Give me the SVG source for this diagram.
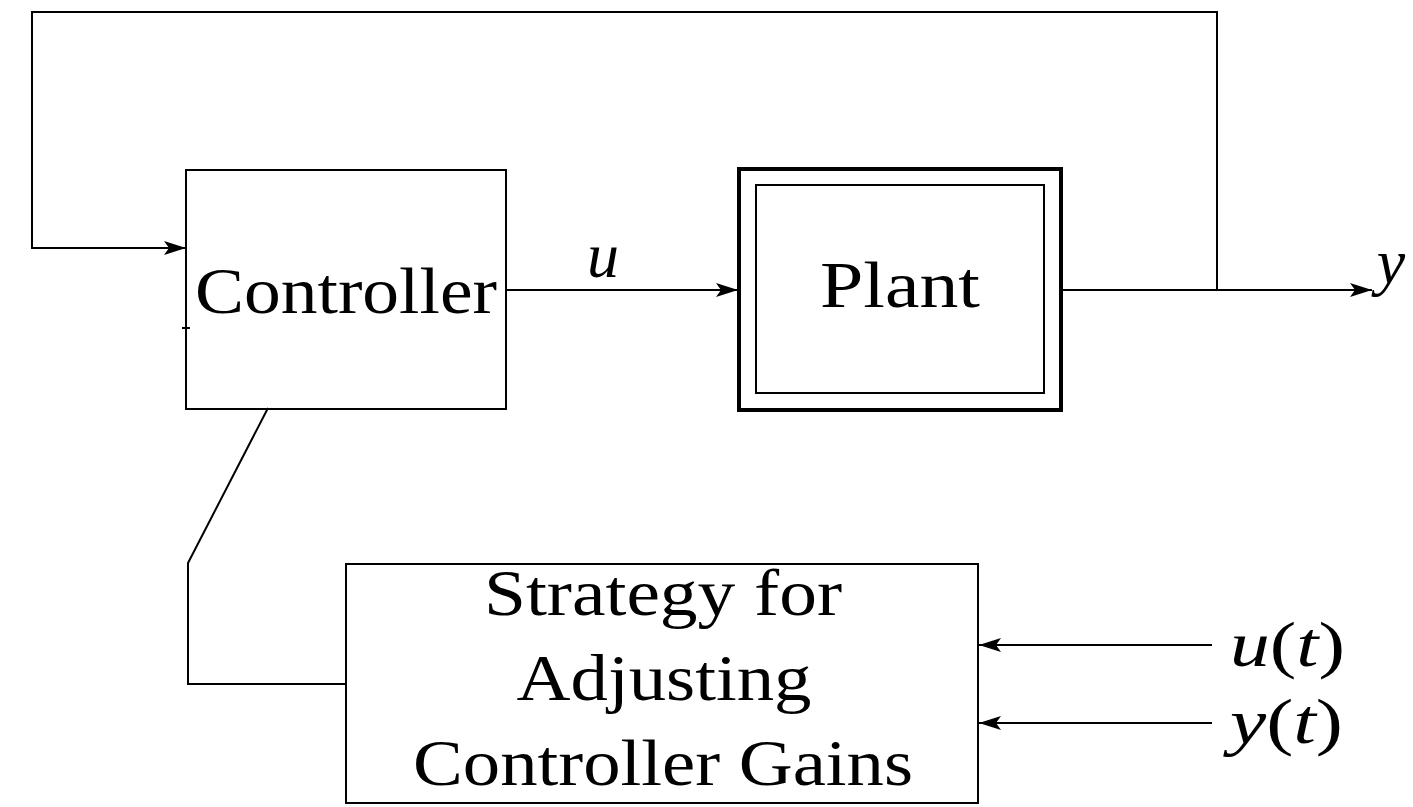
<svg xmlns="http://www.w3.org/2000/svg" width="1413" height="807" viewBox="0 0 1413 807">
<style>
.box{fill:none;stroke:#000;stroke-width:2}
.thick{fill:none;stroke:#000;stroke-width:4}
.ln{fill:none;stroke:#000;stroke-width:2}
.t{font-family:"Liberation Serif","DejaVu Serif",serif;font-size:66px;fill:#000}
.it{font-family:"Liberation Serif","DejaVu Serif",serif;font-size:64px;font-style:italic;fill:#000}
</style>
<defs>
<marker id="ah" viewBox="0 0 22 16" refX="22" refY="8" markerWidth="22" markerHeight="16" markerUnits="userSpaceOnUse" orient="auto">
<path d="M0,1 L22,8 L0,15 L5,8 Z" fill="#000"/>
</marker>
</defs>
<rect width="1413" height="807" fill="#fff"/>
<g id="controller">
<rect class="box" x="186" y="170" width="320" height="239"/>
<line class="ln" x1="182" y1="328" x2="190" y2="328"/>
<text class="t" x="346" y="313" text-anchor="middle" textLength="302" lengthAdjust="spacingAndGlyphs">Controller</text>
</g>
<g id="plant">
<rect class="thick" x="739" y="169" width="322" height="241"/>
<rect class="box" x="756" y="185" width="288" height="208"/>
<text class="t" x="900" y="307" text-anchor="middle" textLength="160" lengthAdjust="spacingAndGlyphs">Plant</text>
</g>
<g id="strategy">
<rect class="box" x="346" y="564" width="632" height="239"/>
<text class="t" x="663" y="615" text-anchor="middle" textLength="358" lengthAdjust="spacingAndGlyphs">Strategy for</text>
<text class="t" x="664" y="700" text-anchor="middle" textLength="295" lengthAdjust="spacingAndGlyphs">Adjusting</text>
<text class="t" x="663" y="785" text-anchor="middle" textLength="500" lengthAdjust="spacingAndGlyphs">Controller Gains</text>
</g>
<g id="connectors">
<line class="ln" x1="506" y1="290" x2="738" y2="290" marker-end="url(#ah)"/>
<line class="ln" x1="1061" y1="290" x2="1372" y2="290" marker-end="url(#ah)"/>
<polyline class="ln" points="1217,290 1217,12 32,12 32,248 186,248" marker-end="url(#ah)"/>
<polyline class="ln" points="268,408 188,563 188,684 346,684"/>
<line class="ln" x1="1212" y1="645" x2="979" y2="645" marker-end="url(#ah)"/>
<line class="ln" x1="1212" y1="723" x2="979" y2="723" marker-end="url(#ah)"/>
</g>
<g id="labels">
<text class="it" x="603" y="277" text-anchor="middle">u</text>
<text class="it" x="1391" y="283" text-anchor="middle">y</text>
<text class="it" x="1230" y="666" textLength="115" lengthAdjust="spacingAndGlyphs">u<tspan font-style="normal">(</tspan>t<tspan font-style="normal">)</tspan></text>
<text class="it" x="1230" y="743" textLength="113" lengthAdjust="spacingAndGlyphs">y<tspan font-style="normal">(</tspan>t<tspan font-style="normal">)</tspan></text>
</g>
</svg>
